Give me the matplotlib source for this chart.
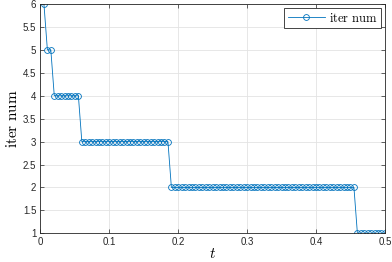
import numpy as np
import matplotlib
matplotlib.use("Agg")
import matplotlib.pyplot as plt

plt.rcParams['mathtext.fontset'] = 'cm'
plt.rcParams['font.family'] = ['Liberation Sans', 'DejaVu Sans']

# data: dt = 0.005
t = np.arange(1, 101) * 0.005
counts = [(6, 1), (5, 2), (4, 8), (3, 26), (2, 54), (1, 9)]
iters = np.concatenate([[v] * n for v, n in counts])

xticks = [0, 0.1, 0.2, 0.3, 0.4, 0.5]
xtick_labels = ['0', '0.1', '0.2', '0.3', '0.4', '0.5']
yticks = [1, 1.5, 2, 2.5, 3, 3.5, 4, 4.5, 5, 5.5, 6]
ytick_labels = ['1', '1.5', '2', '2.5', '3', '3.5', '4', '4.5', '5', '5.5', '6']

fig = plt.figure(figsize=(3.92, 2.62), dpi=100)
ax = fig.add_axes([0.1033, 0.1095, 0.8787, 0.875])

ax.plot(t, iters, '-o', color='#0072BD', lw=0.6, markersize=4.2,
        markerfacecolor='none', markeredgewidth=0.6, label=r'$\mathrm{iter\ num}$')

ax.set_xlim(0, 0.5)
ax.set_ylim(1, 6)
ax.set_xticks(xticks)
ax.set_xticklabels(xtick_labels)
ax.set_yticks(yticks)
ax.set_yticklabels(ytick_labels)
ax.grid(True, color='#e3e3e3', lw=0.6)
ax.set_axisbelow(True)
ax.tick_params(direction='in', length=3, width=0.5, labelsize=7, colors='#262626',
               top=True, right=True, pad=3)
for s in ax.spines.values():
    s.set_color('#262626')
    s.set_linewidth(0.6)

ax.set_xlabel(r'$t$', fontsize=11, labelpad=0)
ax.set_ylabel(r'$\mathrm{iter\ num}$', fontsize=11, labelpad=2)

leg = ax.legend(loc='upper right', fontsize=9, fancybox=False, framealpha=1,
                edgecolor='#262626', handlelength=3.0, borderpad=0.3,
                borderaxespad=0.3, handletextpad=0.3)
leg.get_frame().set_linewidth(0.6)

fig.savefig('out.png', dpi=100)
